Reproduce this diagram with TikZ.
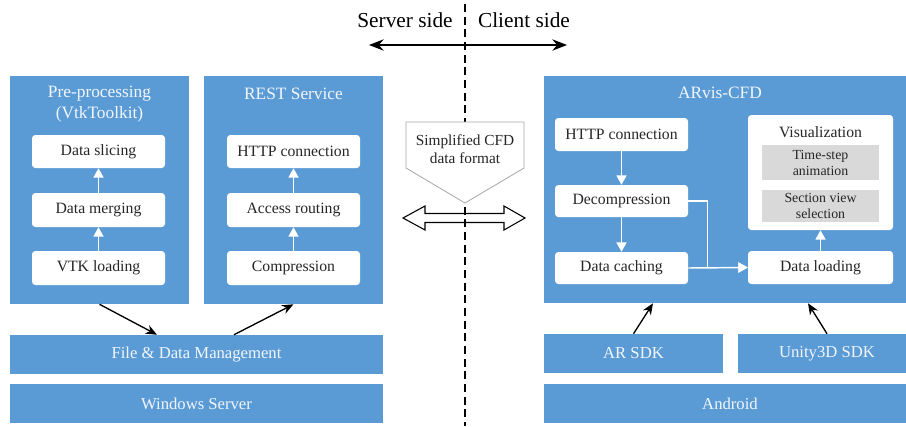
\documentclass[tikz,border=0pt]{standalone}
\usepackage{fontspec}
\setmainfont{Liberation Serif}
\usetikzlibrary{arrows.meta,calc}
\definecolor{boxblue}{HTML}{5B9BD5}
\definecolor{boxgray}{HTML}{D9D9D9}
\definecolor{txtdark}{HTML}{262626}
\definecolor{titlewhite}{HTML}{F2F6FC}
\definecolor{calloutgray}{HTML}{A6A6A6}

\begin{document}
\begin{tikzpicture}[x=0.75pt,y=-0.75pt,
  size/.style 2 args={minimum width=#1*0.75pt,minimum height=#2*0.75pt},
  layer/.style={fill=boxblue,inner sep=0pt,text=titlewhite,font=\fontsize{12.5}{15}\selectfont},
  title/.style={text=titlewhite,align=center,font=\fontsize{13}{15.75}\selectfont},
  item/.style={fill=white,rounded corners=2.5pt,inner sep=0pt,text=txtdark,font=\fontsize{11.8}{14}\selectfont},
  subitem/.style={fill=boxgray,inner sep=0pt,text=txtdark,align=center,font=\fontsize{10.4}{12}\selectfont},
  up/.style={draw=white,line width=1.1pt,-{Triangle[length=7pt,width=7.5pt]}},
  link/.style={draw=black,line width=1pt,-{Stealth[length=8.5pt,width=7pt]}}]
\useasboundingbox (0,0) rectangle (906,426);
\clip (0,0) rectangle (906,426);

% server side
\node[layer,size={179}{228}] (pre) at (99.5,190) {};
\node[title] (pretitle) at (99.5,104.5) {Pre-processing\\(VtkToolkit)};
\node[item,size={133}{33}] (slice) at (98.5,151.5) {Data slicing};
\node[item,size={133}{34}] (merge) at (98.5,210) {Data merging};
\node[item,size={133}{34}] (vtk) at (98.5,268) {VTK loading};
\draw[up] (vtk) -- (merge);
\draw[up] (merge) -- (slice);

\node[layer,size={179}{228}] (rest) at (293.5,190) {};
\node[title] (resttitle) at (293.5,94) {REST Service};
\node[item,size={133}{33}] (http) at (293.5,151.5) {HTTP connection};
\node[item,size={133}{34}] (route) at (293.5,210) {Access routing};
\node[item,size={133}{34}] (comp) at (293.5,268) {Compression};
\draw[up] (comp) -- (route);
\draw[up] (route) -- (http);

\node[layer,size={373}{39}] (fdm) at (196.5,354.5) {File \& Data Management};
\node[layer,size={373}{39}] (win) at (196.5,403.5) {Windows Server};
\draw[link] (pre.south) -- ($(fdm.north)+(-39.5,0)$);
\draw[link] ($(fdm.north)+(37.5,0)$) -- (rest.south);

% divider
\coordinate (divtop) at (465,4);
\coordinate (divbot) at (465,426);
\draw[line width=0.9pt,dash pattern=on 6pt off 3.5pt] (divtop) -- (divbot);
\node[font=\fontsize{16}{19}\selectfont] (server) at (405,20) {Server side};
\node[font=\fontsize{16}{19}\selectfont] (client) at (524,20) {Client side};
\coordinate (sleft) at (369,45);
\coordinate (sright) at (567,45);
\draw[line width=1pt,{Stealth[length=11pt,width=8.5pt]}-{Stealth[length=11pt,width=8.5pt]}] (sleft) -- (sright);

\draw[draw=calloutgray,fill=white,line width=0.6pt] (406,122) -- (524,122) -- (524,168) -- (465,203) -- (406,168) -- cycle;
\node[align=center,text=txtdark,font=\fontsize{11.5}{13.5}\selectfont] (cfd) at (465,149) {Simplified CFD\\data format};
\draw[line width=0.8pt,line join=miter] (403,218) -- (425,206) -- (425,213.5) -- (504,213.5) -- (504,206)
  -- (525,218) -- (504,230) -- (504,222.5) -- (425,222.5) -- (425,230) -- cycle;

% client side
\node[layer,size={372}{227}] (arvis) at (730,189.5) {};
\node[title] (arvistitle) at (720,93) {ARvis-CFD};
\node[item,size={133}{33}] (chttp) at (621.5,134.5) {HTTP connection};
\node[item,size={133}{32}] (decomp) at (621.5,201) {Decompression};
\node[item,size={133}{32}] (cache) at (621.5,268) {Data caching};
\node[item,size={145}{115}] (vis) at (820.5,172.5) {};
\node[text=txtdark,font=\fontsize{11.8}{14}\selectfont] (vistitle) at (820.5,132) {Visualization};
\node[subitem,size={117}{35}] (anim) at (820.5,162.5) {Time-step\\animation};
\node[subitem,size={117}{32}] (section) at (820.5,206) {Section view\\selection};
\node[item,size={145}{33}] (load) at (820.5,267.5) {Data loading};
\draw[up] (chttp) -- (decomp);
\draw[up] (decomp) -- (cache);
\draw[up] (decomp.east) -- ++(19,0) |- (load.west);
\draw[up] (cache.east) -- (load.west);
\draw[up] (load) -- (vis);

\node[layer,size={179}{39}] (arsdk) at (633.5,353.5) {AR SDK};
\node[layer,size={178}{39}] (unity) at (827,353.5) {Unity3D SDK};
\node[layer,size={372}{39}] (android) at (730,403.5) {Android};
\draw[link] (arsdk.north) -- ($(arvis.south)+(-77,0)$);
\draw[link] (unity.north) -- ($(arvis.south)+(78,0)$);
\end{tikzpicture}
\end{document}
